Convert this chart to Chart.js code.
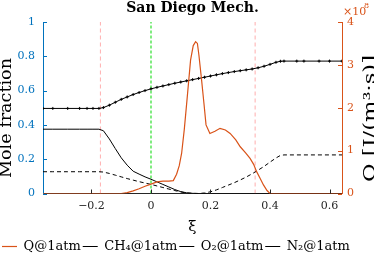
<!DOCTYPE html>
<html>
<head>
<meta charset="utf-8">
<title>San Diego Mech.</title>
<script src="https://cdn.jsdelivr.net/npm/chart.js@4.4.0/dist/chart.umd.min.js"></script>
<style>
  html, body { margin: 0; padding: 0; background: #fff; }
  #wrap { width: 374px; height: 259px; }
</style>
</head>
<body>
<div id="wrap"><canvas id="flame-chart" width="374" height="259"></canvas></div>
<script>
// mixture fraction grid for the species profiles
const xiMole = [
  -0.363, -0.33, -0.28, -0.24, -0.215, -0.195, -0.175,
  -0.16, -0.14, -0.12, -0.10, -0.08, -0.06, -0.04, -0.02, 0,
  0.02, 0.04, 0.06, 0.08, 0.10, 0.12, 0.14, 0.16, 0.18, 0.20,
  0.22, 0.24, 0.26, 0.28, 0.30, 0.32, 0.34, 0.36, 0.38, 0.40,
  0.42, 0.435, 0.447, 0.49, 0.514, 0.565, 0.60, 0.642,
];

const ch4 = [
  0.375, 0.375, 0.375, 0.375, 0.375, 0.375, 0.375,
  0.366, 0.318, 0.262, 0.208, 0.165, 0.130, 0.113, 0.097, 0.083,
  0.068, 0.053, 0.038, 0.023, 0.011, 0.004, 0.001, 0, 0, 0,
  0, 0, 0, 0, 0, 0, 0, 0, 0, 0,
  0, 0, 0, 0, 0, 0, 0, 0,
];

const o2 = [
  0.127, 0.127, 0.127, 0.127, 0.127, 0.127, 0.127,
  0.125, 0.117, 0.107, 0.097, 0.087, 0.078, 0.069, 0.061, 0.053,
  0.044, 0.035, 0.026, 0.017, 0.009, 0.003, 0.001, 0, 0.003, 0.010,
  0.021, 0.035, 0.049, 0.063, 0.079, 0.096, 0.115, 0.136, 0.158, 0.183,
  0.207, 0.222, 0.225, 0.225, 0.225, 0.225, 0.225, 0.225,
];

const n2 = [
  0.496, 0.496, 0.496, 0.496, 0.496, 0.496, 0.496,
  0.501, 0.515, 0.532, 0.549, 0.563, 0.577, 0.589, 0.600, 0.610,
  0.619, 0.627, 0.635, 0.643, 0.650, 0.657, 0.664, 0.671, 0.678, 0.685,
  0.692, 0.699, 0.705, 0.711, 0.716, 0.721, 0.726, 0.733, 0.742, 0.753,
  0.765, 0.771, 0.772, 0.772, 0.772, 0.772, 0.772, 0.772,
];

// heat release, in 1e8 J/(m3 s)
const xiQ = [
  -0.363, -0.15, -0.10, -0.08, -0.06, -0.04, -0.02, 0, 0.02, 0.04,
  0.06, 0.075, 0.086, 0.095, 0.103, 0.112, 0.122, 0.133, 0.142, 0.15,
  0.156, 0.161, 0.17, 0.178, 0.185, 0.198, 0.215, 0.232, 0.25, 0.266,
  0.285, 0.30, 0.318, 0.333, 0.345, 0.355, 0.367, 0.378, 0.39, 0.40,
  0.642,
];
const qRate = [
  0, 0, 0, 0.02, 0.06, 0.11, 0.17, 0.22, 0.27, 0.29,
  0.29, 0.30, 0.45, 0.65, 0.94, 1.5, 2.26, 3.11, 3.45, 3.54,
  3.5, 3.23, 2.65, 2.1, 1.6, 1.4, 1.45, 1.52, 1.48, 1.40,
  1.25, 1.09, 0.95, 0.82, 0.68, 0.51, 0.35, 0.2, 0.07, 0,
  0,
];

const seriesLabels = ["Q@1atm", "CH₄@1atm", "O₂@1atm", "N₂@1atm"];
const xTicks = [-0.2, 0, 0.2, 0.4, 0.6];
const leftTicks = [0, 0.2, 0.4, 0.6, 0.8, 1];
const rightTicks = [0, 1, 2, 3, 4];
const stoichLine = [0];
const zoneLines = [-0.17, 0.35];

const BLUE = "#0072BD";
const ORANGE = "#D95319";
const AXIS_GRAY = "#262626";
const SERIF = "DejaVu Serif";

const pts = (xs, ys) => xs.map((x, i) => ({ x, y: ys[i] }));
const vline = (x) => [{ x, y: 0 }, { x, y: 1 }];
const fmtTick = (v) => String(v).replace("-", "\u2212");

// inward tick marks, like the original figure
const innerTicks = {
  id: "innerTicks",
  afterDraw(chart) {
    const { ctx, chartArea: a, scales } = chart;
    const len = 4;
    const mark = (color, segs) => {
      ctx.strokeStyle = color;
      ctx.beginPath();
      segs.forEach(([x1, y1, x2, y2]) => {
        ctx.moveTo(x1, y1);
        ctx.lineTo(x2, y2);
      });
      ctx.stroke();
    };
    ctx.save();
    ctx.lineWidth = 1;
    mark(AXIS_GRAY, scales.x.ticks.map((t) => {
      const px = Math.round(scales.x.getPixelForValue(t.value)) + 0.5;
      return [px, a.bottom, px, a.bottom - len];
    }));
    mark(BLUE, scales.y.ticks.map((t) => {
      const py = Math.round(scales.y.getPixelForValue(t.value)) + 0.5;
      return [a.left, py, a.left + len, py];
    }));
    mark(ORANGE, scales.y2.ticks.map((t) => {
      const py = Math.round(scales.y2.getPixelForValue(t.value)) + 0.5;
      return [a.right, py, a.right - len, py];
    }));
    ctx.restore();
  },
};

function drawRotated(ctx, text, baseX, centerY, size, length, color) {
  ctx.save();
  ctx.font = `${size}px "${SERIF}"`;
  ctx.fillStyle = color;
  ctx.translate(baseX, centerY);
  ctx.rotate(-Math.PI / 2);
  const w = ctx.measureText(text).width;
  ctx.scale(length / w, 1);
  ctx.textAlign = "center";
  ctx.textBaseline = "alphabetic";
  ctx.fillText(text, 0, 0);
  ctx.restore();
}

// both y titles read bottom-to-top and run off the canvas edge
const axisText = {
  id: "axisText",
  afterDraw(chart) {
    const { ctx } = chart;
    drawRotated(ctx, "Mole fraction", 10.5, 118, 16, 120, "#000");
    drawRotated(ctx, "Q [J/(m³·s)]", 375, 118.5, 16, 127, "#000");

    ctx.save();
    ctx.fillStyle = ORANGE;
    ctx.textBaseline = "alphabetic";
    ctx.font = `11px "${SERIF}"`;
    ctx.fillText("×10", 343, 15);
    ctx.font = `8px "${SERIF}"`;
    ctx.fillText("8", 364, 8);
    ctx.restore();
  },
};

const canvas = document.getElementById("flame-chart");

new Chart(canvas, {
  type: "line",
  data: {
    datasets: [
      {
        label: seriesLabels[0],
        data: pts(xiQ, qRate),
        yAxisID: "y2",
        borderColor: ORANGE,
        borderWidth: 1.2,
        pointRadius: 0,
      },
      {
        label: seriesLabels[1],
        data: pts(xiMole, ch4),
        yAxisID: "y",
        borderColor: "#000",
        borderWidth: 1,
        pointRadius: 0,
      },
      {
        label: seriesLabels[2],
        data: pts(xiMole, o2),
        yAxisID: "y",
        borderColor: "#000",
        borderWidth: 1,
        borderDash: [4, 3],
        pointRadius: 0,
      },
      {
        label: seriesLabels[3],
        data: pts(xiMole, n2),
        yAxisID: "y",
        borderColor: "#000",
        borderWidth: 1,
        pointStyle: "cross",
        pointRadius: 1.5,
        pointBorderWidth: 1,
        pointBorderColor: "#000",
      },
      ...zoneLines.map((x) => ({
        label: "zone",
        data: vline(x),
        yAxisID: "y",
        borderColor: "rgba(255, 140, 140, 0.7)",
        borderWidth: 1,
        borderDash: [4, 3],
        pointRadius: 0,
      })),
      ...stoichLine.map((x) => ({
        label: "stoich",
        data: vline(x),
        yAxisID: "y",
        borderColor: "#55e655",
        borderWidth: 1.5,
        borderDash: [3, 2],
        pointRadius: 0,
      })),
    ],
  },
  options: {
    responsive: false,
    animation: false,
    devicePixelRatio: 1,
    layout: { padding: { top: 0, left: 0, right: 0, bottom: -4 } },
    elements: { line: { tension: 0 } },
    scales: {
      x: {
        type: "linear",
        min: -0.363,
        max: 0.642,
        afterBuildTicks: (s) => { s.ticks = xTicks.map((v) => ({ value: v })); },
        afterFit: (s) => { s.height = 44.5; },
        grid: { display: false, drawTicks: false },
        border: { display: true, color: AXIS_GRAY, width: 1 },
        ticks: {
          padding: 6,
          color: AXIS_GRAY,
          font: { family: SERIF, size: 11 },
          maxRotation: 0,
          callback: fmtTick,
        },
        title: {
          display: true,
          text: "ξ",
          color: "#000",
          font: { family: SERIF, size: 15 },
          padding: { top: 0, bottom: 1.5 },
        },
      },
      y: {
        position: "left",
        min: 0,
        max: 1,
        afterBuildTicks: (s) => { s.ticks = leftTicks.map((v) => ({ value: v })); },
        afterFit: (s) => { s.width = 43; },
        grid: { display: false, drawTicks: false },
        border: { display: true, color: BLUE, width: 1 },
        ticks: {
          padding: 8,
          color: BLUE,
          font: { family: SERIF, size: 11 },
          callback: fmtTick,
        },
      },
      y2: {
        position: "right",
        min: 0,
        max: 4,
        afterBuildTicks: (s) => { s.ticks = rightTicks.map((v) => ({ value: v })); },
        afterFit: (s) => { s.width = 32; },
        grid: { display: false, drawTicks: false },
        border: { display: true, color: ORANGE, width: 1 },
        ticks: {
          padding: 5,
          color: ORANGE,
          font: { family: SERIF, size: 11 },
        },
      },
    },
    plugins: {
      title: {
        display: true,
        text: "San Diego Mech.",
        color: "#000",
        fullSize: false,
        font: { family: SERIF, size: 14, weight: "bold" },
        padding: { top: 0, bottom: 5.2 },
      },
      legend: {
        position: "bottom",
        align: "start",
        labels: {
          color: "#000",
          font: { family: SERIF, size: 13 },
          usePointStyle: true,
          pointStyleWidth: 15,
          padding: 2,
          filter: (item) => item.datasetIndex < seriesLabels.length,
          generateLabels: (chart) =>
            Chart.defaults.plugins.legend.labels.generateLabels(chart).map((item) => ({
              ...item,
              pointStyle: "line",
            })),
        },
      },
      tooltip: { enabled: false },
    },
  },
  plugins: [innerTicks, axisText],
});
</script>
</body>
</html>
